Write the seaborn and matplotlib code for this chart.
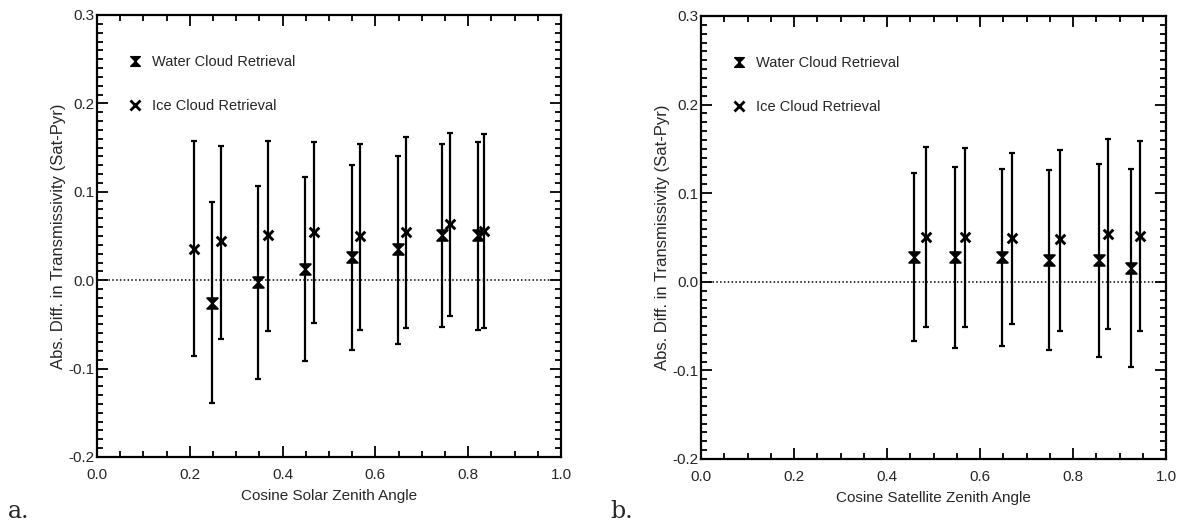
import numpy as np
import pandas as pd
import matplotlib
matplotlib.use("Agg")
import matplotlib.pyplot as plt
from matplotlib.lines import Line2D
from matplotlib.path import Path
from matplotlib.ticker import MultipleLocator, FormatStrFormatter
import seaborn as sns

# ---------------- data ----------------
# Panel a: cosine solar zenith angle
a_water_x = [0.247, 0.348, 0.449, 0.549, 0.648, 0.743, 0.821]
a_water_y = [-0.026, -0.002, 0.013, 0.026, 0.035, 0.051, 0.051]
a_water_hi = [0.088, 0.107, 0.117, 0.130, 0.141, 0.154, 0.156]
a_water_lo = [-0.139, -0.112, -0.091, -0.079, -0.072, -0.053, -0.056]

a_ice_x = [0.209, 0.268, 0.369, 0.467, 0.567, 0.667, 0.761, 0.833]
a_ice_y = [0.035, 0.044, 0.051, 0.055, 0.050, 0.055, 0.064, 0.056]
a_ice_hi = [0.157, 0.152, 0.157, 0.156, 0.154, 0.162, 0.166, 0.165]
a_ice_lo = [-0.086, -0.067, -0.058, -0.048, -0.056, -0.054, -0.040, -0.054]

# Panel b: cosine satellite zenith angle
b_water_x = [0.458, 0.547, 0.647, 0.749, 0.855, 0.925]
b_water_y = [0.028, 0.028, 0.028, 0.025, 0.025, 0.016]
b_water_hi = [0.123, 0.130, 0.127, 0.126, 0.133, 0.127]
b_water_lo = [-0.067, -0.075, -0.073, -0.077, -0.085, -0.096]

b_ice_x = [0.484, 0.567, 0.668, 0.771, 0.875, 0.945]
b_ice_y = [0.050, 0.050, 0.049, 0.048, 0.054, 0.052]
b_ice_hi = [0.152, 0.151, 0.145, 0.149, 0.161, 0.159]
b_ice_lo = [-0.051, -0.051, -0.048, -0.056, -0.053, -0.056]

series_labels = ["Water Cloud Retrieval", "Ice Cloud Retrieval"]
x_labels = ["Cosine Solar Zenith Angle", "Cosine Satellite Zenith Angle"]
y_label = "Abs. Diff. in Transmissivity (Sat-Pyr)"
panel_tags = ["a.", "b."]

# ---------------- style ----------------
sns.set_style("ticks")
plt.rcParams["font.family"] = ["Liberation Sans", "DejaVu Sans"]
plt.rcParams["xtick.direction"] = "in"
plt.rcParams["ytick.direction"] = "in"

# hourglass (filled bow-tie) marker for the water retrieval
hourglass = Path([(-1, 1), (1, 1), (-1, -1), (1, -1), (-1, 1)],
                 [Path.MOVETO, Path.LINETO, Path.LINETO, Path.LINETO, Path.CLOSEPOLY])

W, H = 1181, 523
fig = plt.figure(figsize=(W / 100, H / 100), dpi=100)
fig.patch.set_facecolor("white")

ax_a = fig.add_axes([97 / W, 1 - 457 / H, 464 / W, 442 / H])
ax_b = fig.add_axes([701 / W, 1 - 459 / H, 465 / W, 443 / H])


def frame(df_w, df_i, ax, xlabel):
    # error bars
    for df in (df_w, df_i):
        ax.errorbar(df["x"], df["y"],
                    yerr=[df["y"] - df["lo"], df["hi"] - df["y"]],
                    fmt="none", ecolor="black", elinewidth=1.6,
                    capsize=2.4, capthick=1.6, zorder=2)
    sns.scatterplot(data=df_w, x="x", y="y", ax=ax, marker=hourglass,
                    s=60, color="black", edgecolor="black", linewidth=1.3,
                    zorder=3, legend=False)
    sns.scatterplot(data=df_i, x="x", y="y", ax=ax, marker="x",
                    s=48, color="black", linewidth=2.1, zorder=3, legend=False)
    ax.axhline(0.0, color="black", linestyle=(0, (1, 1.5)), linewidth=1.1, zorder=1)

    ax.set_xlim(0.0, 1.0)
    ax.set_ylim(-0.2, 0.3)
    ax.xaxis.set_major_locator(MultipleLocator(0.2))
    ax.xaxis.set_minor_locator(MultipleLocator(0.05))
    ax.yaxis.set_major_locator(MultipleLocator(0.1))
    ax.yaxis.set_minor_locator(MultipleLocator(0.01))
    ax.xaxis.set_major_formatter(FormatStrFormatter("%.1f"))
    ax.yaxis.set_major_formatter(FormatStrFormatter("%.1f"))
    ax.tick_params(which="both", top=True, right=True, direction="in",
                   color="black", width=1.3)
    ax.tick_params(which="major", length=8, labelsize=11)
    ax.tick_params(axis="x", which="major", pad=8)
    ax.tick_params(axis="y", which="major", pad=2)
    ax.tick_params(which="minor", length=4)
    for s in ax.spines.values():
        s.set_linewidth(1.6)
        s.set_color("black")
    ax.set_xlabel(xlabel, fontsize=11, labelpad=5)
    ax.set_ylabel(y_label, fontsize=12)
    ax.yaxis.set_label_coords(-0.066, 0.5)

    handles = [Line2D([], [], linestyle="none", marker=hourglass, markersize=7,
                      color="black", markeredgewidth=1.0),
               Line2D([], [], linestyle="none", marker="x", markersize=7,
                      color="black", markeredgewidth=2.0)]
    ax.legend(handles, series_labels, loc="upper left",
              bbox_to_anchor=(0.066, 0.91), frameon=False, fontsize=10.5,
              labelspacing=2.1, handlelength=1.0, handletextpad=0.7,
              borderpad=0, borderaxespad=0)


def mk(x, y, hi, lo):
    return pd.DataFrame({"x": x, "y": y, "hi": hi, "lo": lo})


frame(mk(a_water_x, a_water_y, a_water_hi, a_water_lo),
      mk(a_ice_x, a_ice_y, a_ice_hi, a_ice_lo), ax_a, x_labels[0])
frame(mk(b_water_x, b_water_y, b_water_hi, b_water_lo),
      mk(b_ice_x, b_ice_y, b_ice_hi, b_ice_lo), ax_b, x_labels[1])

fig.text(8 / W, 1 - 511 / H, panel_tags[0], fontsize=17, va="center",
         family=["DejaVu Serif"])
fig.text(610 / W, 1 - 511 / H, panel_tags[1], fontsize=17, va="center",
         family=["DejaVu Serif"])

fig.savefig("out.png", dpi=100, facecolor="white")
